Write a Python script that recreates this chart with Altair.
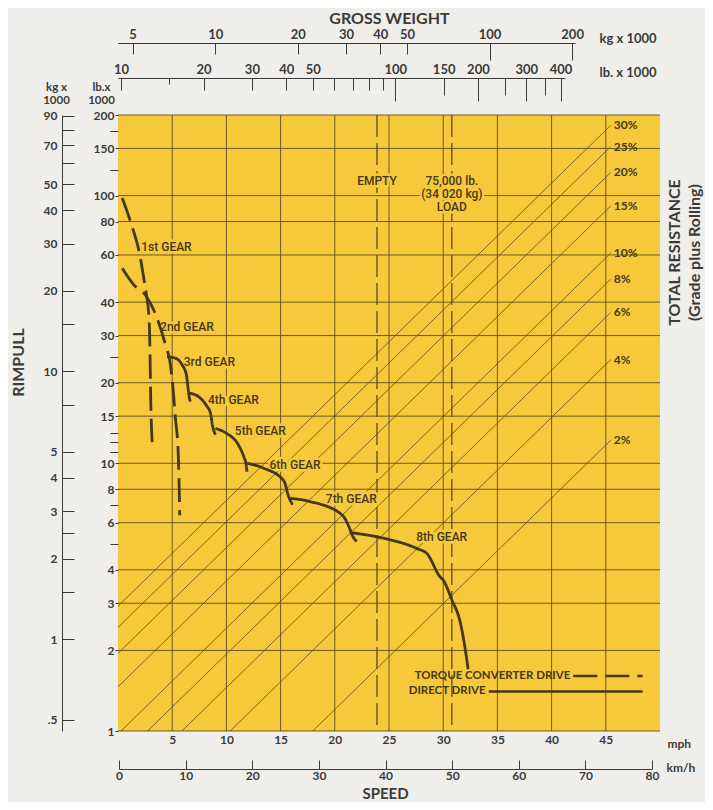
import math
import altair as alt
import pandas as pd

# ---------------- values ----------------
MPH_GRID = [5, 10, 15, 20, 25, 30, 35, 40, 45]
RIM_LB_MAJOR = [1, 2, 3, 4, 6, 8, 10, 15, 20, 30, 40, 60, 80, 100, 150, 200]
RIM_LB_MINOR = [5, 7, 11, 12, 13, 25, 125, 175]
RIM_KG_LABELED = [0.5, 1, 2, 3, 4, 5, 10, 20, 30, 40, 50, 70, 90]
RIM_KG_MINOR = [1.5, 2.5, 7.5, 15, 60, 80]
KMH_TICKS = [0, 10, 20, 30, 40, 50, 60, 70, 80]
GW_KG_LABELED = [5, 10, 20, 30, 40, 50, 100, 200]
GW_KG_LONG = [100, 200]
GW_LB_LABELED = [10, 20, 30, 40, 50, 100, 150, 200, 300, 400]
GW_LB_PLAIN = [60, 70, 80, 90]
GW_LB_SHORT = [15]
GW_LB_MEDIUM = [150, 250, 350]
GW_LB_LONG = [100, 200, 300, 400]

RESIST_PCT = [2, 4, 6, 8, 10, 15, 20, 25, 30]
RESIST_LABELS = ["2%", "4%", "6%", "8%", "10%", "15%", "20%", "25%", "30%"]
RESIST_W_START = 9.75     # lb x 1000 (left edge of weight scale)
RESIST_W_END = 610        # lb x 1000 (where the lines stop)

EMPTY_LB = 85.7           # gross weight, lb x 1000
PAYLOAD_LB = 75.0
WEIGHT_TEXT = ["EMPTY", "75,000 lb.\n(34 020 kg)\nLOAD"]
WEIGHT_TEXT_RIM = [113.7, 113.4]

G1_MPH = [0.39, 1.15, 2.01, 2.38, 2.63, 2.84, 2.93, 3.02, 3.15]
G1_RIM = [97.9, 79.9, 60.0, 49.1, 42.5, 35.8, 28.9, 17.2, 12.0]
G2_MPH = [0.39, 1.46, 2.53, 3.61, 4.38, 4.84, 5.05, 5.30, 5.55, 5.70]
G2_RIM = [53.5, 46.4, 42.5, 34.8, 27.7, 23.3, 19.6, 14.7, 11.05, 6.4]
G3_MPH = [4.53, 5.30, 5.92, 6.31, 6.43, 6.59, 6.68]
G3_RIM = [25.0, 24.7, 23.3, 21.4, 19.6, 17.5, 17.0]
G4_MPH = [6.62, 7.60, 8.22, 8.53, 8.74, 8.99]
G4_RIM = [18.3, 17.5, 16.3, 15.4, 13.7, 12.8]
G5_MPH = [8.99, 10.06, 11.0, 11.6, 11.8, 11.9]
G5_RIM = [13.5, 12.9, 11.9, 10.6, 10.0, 9.3]
G6_MPH = [11.9, 13.4, 15.3, 15.75, 16.1]
G6_RIM = [10.0, 9.6, 8.6, 7.5, 7.0]
G7_MPH = [15.9, 17.7, 20.7, 21.3, 21.6, 22.0]
G7_RIM = [7.4, 7.2, 6.4, 5.8, 5.4, 5.1]
G8_MPH = [21.6, 24.5, 27.6, 28.5, 29.7, 30.0, 30.8, 31.6, 32.0, 32.3]
G8_RIM = [5.5, 5.25, 4.8, 4.6, 3.77, 3.66, 3.09, 2.52, 2.06, 1.70]
GEAR_DRIVE = ["tc", "tc", "dd", "dd", "dd", "dd", "dd", "dd"]

GEAR_LABELS = ["1st GEAR", "2nd GEAR", "3rd GEAR", "4th GEAR",
               "5th GEAR", "6th GEAR", "7th GEAR", "8th GEAR"]
GEAR_LABEL_MPH = [4.47, 6.36, 8.43, 10.65, 13.13, 16.33, 21.52, 29.86]
GEAR_LABEL_RIM = [64.3, 32.4, 23.8, 17.3, 13.2, 9.88, 7.36, 5.29]

LEGEND_LABELS = ["TORQUE CONVERTER DRIVE", "DIRECT DRIVE"]
LEGEND_KIND = ["tc", "dd"]
LEGEND_RIM = [1.605, 1.405]
LEGEND_MPH_START = [42.0, 34.2]
LEGEND_MPH_END = [48.4, 48.4]

# ---------------- styling / layout ----------------
W, H = 542, 616
YELLOW = "#F6C93B"
BG = "#EFEEEB"
GRID = "#5e4c1f"
INK = "#46371a"
AXC = "#3b3b39"
FB = "Lato, 'Open Sans', sans-serif"
FC = "Roboto, 'Noto Sans', sans-serif"
LB_PER_KG = 2.2046

GW_DOMAIN = [9.75, 922]
PX_PER_DECADE = W / math.log10(GW_DOMAIN[1] / GW_DOMAIN[0])
GW_LB_AXIS_END = 415
GW_KG_AXIS_END = 205


def mph_scale():
    return alt.Scale(domain=[0, 50], nice=False, zero=False)


def rim_scale():
    return alt.Scale(type="log", domain=[1, 200], nice=False)


def gw_scale():
    return alt.Scale(type="log", domain=GW_DOMAIN, nice=False)


def gw_lb_axis_scale():
    return alt.Scale(type="log", domain=[GW_DOMAIN[0], GW_LB_AXIS_END],
                     range=[0, PX_PER_DECADE * math.log10(GW_LB_AXIS_END / GW_DOMAIN[0])],
                     nice=False)


def gw_kg_axis_scale():
    lo = GW_DOMAIN[0] / LB_PER_KG
    return alt.Scale(type="log", domain=[lo, GW_KG_AXIS_END],
                     range=[0, PX_PER_DECADE * math.log10(GW_KG_AXIS_END / lo)],
                     nice=False)


def rim_kg_scale():
    return alt.Scale(type="log", domain=[1 / LB_PER_KG, 200 / LB_PER_KG], nice=False)


def kmh_scale():
    return alt.Scale(domain=[0, 80], range=[1, 534], nice=False, zero=False)


AX = dict(labelFont=FB, labelFontSize=12, labelFontWeight="bold", labelColor=AXC,
          tickColor=AXC, domainColor=AXC, grid=False, labelFlush=False,
          labelOverlap=False, titleFont=FB, titleFontWeight="bold",
          titleColor=AXC, titleFontSize=12)


def df_of(vals):
    return pd.DataFrame({"v": vals})


def x_axis_layer(vals, scale, **axis):
    return alt.Chart(df_of(vals)).mark_point(opacity=0).encode(
        x=alt.X("v:Q", scale=scale, axis=alt.Axis(**{**AX, "values": vals, **axis})))


def y_axis_layer(vals, scale, **axis):
    return alt.Chart(df_of(vals)).mark_point(opacity=0).encode(
        y=alt.Y("v:Q", scale=scale, axis=alt.Axis(**{**AX, "values": vals, **axis})))


layers = []

# ---- top: gross weight kg ----
layers.append(x_axis_layer(GW_KG_LABELED, gw_kg_axis_scale(), orient="bottom",
                           offset=-(H + 72), format="d", labelFontSize=13,
                           tickSize=11, labelBaseline="bottom", labelPadding=-13,
                           title="GROSS WEIGHT", titleFontSize=16, titleAngle=0,
                           titleX=271, titleY=-25, titleAlign="center",
                           titleBaseline="middle"))
layers.append(x_axis_layer(GW_KG_LONG, gw_kg_axis_scale(), orient="bottom",
                           offset=-(H + 72), tickSize=17,
                           labels=False, domain=False, title="kg x 1000",
                           titleFontSize=13, titleAngle=0, titleX=481, titleY=-5,
                           titleAlign="left", titleBaseline="middle"))
# ---- top: gross weight lb ----
plain_expr = "indexof(%s, datum.value) >= 0 ? '' : datum.label" % str(GW_LB_PLAIN)
layers.append(x_axis_layer(GW_LB_LABELED + GW_LB_PLAIN, gw_lb_axis_scale(),
                           orient="bottom", offset=-(H + 37), format="d",
                           labelFontSize=13, labelExpr=plain_expr, tickSize=12,
                           labelBaseline="bottom", labelPadding=-14, title=None))
layers.append(x_axis_layer(GW_LB_MEDIUM, gw_lb_axis_scale(), orient="bottom",
                           offset=-(H + 37), tickSize=17,
                           labels=False, domain=False, title=None))
layers.append(x_axis_layer(GW_LB_SHORT, gw_lb_axis_scale(), orient="bottom",
                           offset=-(H + 37), tickSize=6,
                           labels=False, domain=False, title=None))
layers.append(x_axis_layer(GW_LB_LONG, gw_lb_axis_scale(), orient="bottom",
                           offset=-(H + 37), tickSize=23,
                           labels=False, domain=False, title="lb. x 1000",
                           titleFontSize=13, titleAngle=0, titleX=481, titleY=-6,
                           titleAlign="left", titleBaseline="middle"))
# ---- bottom: km/h ----
layers.append(x_axis_layer(KMH_TICKS, kmh_scale(), orient="top", offset=-(H + 38),
                           format="d", tickSize=9,
                           labelBaseline="top", labelPadding=-10, title="km/h",
                           titleAngle=0, titleX=548, titleY=-2, titleAlign="left",
                           titleBaseline="middle"))
layers.append(x_axis_layer(MPH_GRID, mph_scale(), orient="bottom", domain=False,
                           ticks=False, labels=False, title="SPEED",
                           titleFontSize=15, titleAngle=0, titleX=267, titleY=62,
                           titleAlign="center", titleBaseline="middle"))
# ---- left: rimpull kg ----
kg_all = RIM_KG_LABELED + RIM_KG_MINOR
kg_expr = ("datum.value == 0.5 ? '.5' : (indexof(%s, datum.value) >= 0 ? '' : "
           "format(datum.value, 'd'))" % str(RIM_KG_MINOR))
layers.append(y_axis_layer(kg_all, rim_kg_scale(), orient="right", offset=-(W + 56),
                           labelExpr=kg_expr, tickSize=12,
                           labelAlign="right", labelPadding=-17,
                           title=["kg x", "1000"], titleFontSize=11.5, titleAngle=0,
                           titleX=-6, titleY=-34, titleAlign="center",
                           titleBaseline="top", titleLineHeight=13))
layers.append(y_axis_layer(RIM_LB_MINOR, rim_scale(), orient="left",
                           labels=False, domain=False, tickSize=8, title="RIMPULL",
                           titleFontSize=16, titleAngle=270, titleX=-100, titleY=247,
                           titleAlign="center", titleBaseline="middle"))
layers.append(y_axis_layer(RIM_LB_MAJOR, rim_scale(), orient="right", labels=False,
                           domain=False, ticks=False,
                           title=["TOTAL RESISTANCE", "(Grade plus Rolling)"],
                           titleFontSize=16, titleAngle=270, titleX=6, titleY=137,
                           titleAlign="center", titleBaseline="top",
                           titleLineHeight=20))

# ---- grid ----
layers.append(alt.Chart(df_of(MPH_GRID)).mark_rule(color=GRID, strokeWidth=0.9).encode(
    x=alt.X("v:Q", scale=mph_scale(),
            axis=alt.Axis(**{**AX, **dict(orient="bottom", values=MPH_GRID, format="d",
                                          domain=False, ticks=False, labelPadding=3,
                                          title="mph", titleAngle=0, titleX=549,
                                          titleY=12, titleAlign="left",
                                          titleBaseline="middle")}))))
layers.append(alt.Chart(df_of(RIM_LB_MAJOR)).mark_rule(color=GRID, strokeWidth=0.9).encode(
    y=alt.Y("v:Q", scale=rim_scale(),
            axis=alt.Axis(**{**AX, **dict(orient="left", values=RIM_LB_MAJOR, format="d",
                                          domain=False, tickSize=3, labelPadding=1,
                                          title=["lb.x", "1000"], titleFontSize=11.5,
                                          titleAngle=0, titleX=-17, titleY=-34,
                                          titleAlign="center", titleBaseline="top",
                                          titleLineHeight=13)}))))

# ---- total resistance lines ----
res_rows = []
for p in RESIST_PCT:
    for w in (RESIST_W_START, RESIST_W_END):
        res_rows.append({"p": p, "w": w, "r": p / 100.0 * w})
res_df = pd.DataFrame(res_rows)
layers.append(alt.Chart(res_df).mark_line(clip=True, color=GRID, strokeWidth=0.8).encode(
    x=alt.X("w:Q", scale=gw_scale(), axis=None),
    y=alt.Y("r:Q", scale=rim_scale(), axis=None),
    detail="p:N"))
lab_df = pd.DataFrame({"w": [RESIST_W_END] * len(RESIST_PCT),
                       "r": [p / 100.0 * RESIST_W_END for p in RESIST_PCT],
                       "t": RESIST_LABELS})
layers.append(alt.Chart(lab_df).mark_text(align="left", baseline="middle", dx=3,
                                          font=FB, fontSize=12, fontWeight="bold",
                                          color=INK).encode(
    x=alt.X("w:Q", scale=gw_scale(), axis=None),
    y=alt.Y("r:Q", scale=rim_scale(), axis=None), text="t:N"))

# ---- empty / loaded weight lines ----
wt_df = pd.DataFrame({"w": [EMPTY_LB, EMPTY_LB + PAYLOAD_LB], "r": WEIGHT_TEXT_RIM,
                      "t": WEIGHT_TEXT})
layers.append(alt.Chart(wt_df).mark_rule(color=GRID, strokeWidth=1.3,
                                         strokeDash=[22, 6]).encode(
    x=alt.X("w:Q", scale=gw_scale(), axis=None)))
for halo in (True, False):
    kw = dict(stroke=YELLOW, strokeWidth=5, strokeJoin="round") if halo else {}
    layers.append(alt.Chart(wt_df).mark_text(font=FC, fontSize=12, fontWeight=500,
                                             color=YELLOW if halo else INK,
                                             lineBreak="\n", lineHeight=13,
                                             baseline="middle", **kw).encode(
        x=alt.X("w:Q", scale=gw_scale(), axis=None),
        y=alt.Y("r:Q", scale=rim_scale(), axis=None), text="t:N"))

# ---- gear labels ----
gl_df = pd.DataFrame({"x": GEAR_LABEL_MPH, "y": GEAR_LABEL_RIM, "t": GEAR_LABELS})
for halo in (True, False):
    kw = dict(stroke=YELLOW, strokeWidth=5, strokeJoin="round") if halo else {}
    layers.append(alt.Chart(gl_df).mark_text(font=FC, fontSize=12, fontWeight=500,
                                             color=YELLOW if halo else INK,
                                             baseline="middle", **kw).encode(
        x=alt.X("x:Q", scale=mph_scale(), axis=None),
        y=alt.Y("y:Q", scale=rim_scale(), axis=None), text="t:N"))

# ---- rimpull curves ----
gear_rows = []
for gi, (xs, ys) in enumerate([(G1_MPH, G1_RIM), (G2_MPH, G2_RIM), (G3_MPH, G3_RIM),
                               (G4_MPH, G4_RIM), (G5_MPH, G5_RIM), (G6_MPH, G6_RIM),
                               (G7_MPH, G7_RIM), (G8_MPH, G8_RIM)]):
    for i, (x, y) in enumerate(zip(xs, ys)):
        gear_rows.append({"gear": gi + 1, "drive": GEAR_DRIVE[gi], "i": i, "x": x, "y": y})
gear_df = pd.DataFrame(gear_rows)
dash_scale = alt.Scale(domain=["tc", "dd"], range=[[24, 8], [1, 0]])
layers.append(alt.Chart(gear_df).mark_line(color=INK, strokeWidth=2.8,
                                           interpolate="monotone").encode(
    x=alt.X("x:Q", scale=mph_scale(), axis=None),
    y=alt.Y("y:Q", scale=rim_scale(), axis=None),
    detail="gear:N", order="i:Q",
    strokeDash=alt.StrokeDash("drive:N", scale=dash_scale, legend=None)))

# ---- legend ----
lg_df = pd.DataFrame({"t": LEGEND_LABELS, "k": LEGEND_KIND, "y": LEGEND_RIM,
                      "a": LEGEND_MPH_START, "b": LEGEND_MPH_END})
layers.append(alt.Chart(lg_df).mark_rule(color=INK, strokeWidth=2.6).encode(
    x=alt.X("a:Q", scale=mph_scale(), axis=None), x2="b:Q",
    y=alt.Y("y:Q", scale=rim_scale(), axis=None),
    strokeDash=alt.StrokeDash("k:N", scale=alt.Scale(domain=["tc", "dd"],
                                                     range=[[20, 5], [1, 0]]),
                              legend=None)))
layers.append(alt.Chart(lg_df).mark_text(align="right", baseline="middle", dx=-3,
                                         font=FB, fontSize=11.5, fontWeight="bold",
                                         color=INK).encode(
    x=alt.X("a:Q", scale=mph_scale(), axis=None),
    y=alt.Y("y:Q", scale=rim_scale(), axis=None), text="t:N"))

chart = alt.layer(*layers).resolve_scale(
    x="independent", y="independent").resolve_axis(
    x="independent", y="independent").properties(
    width=W, height=H, background=BG,
    autosize=alt.AutoSizeParams(type="none"),
    padding={"left": 110, "top": 107, "right": 45, "bottom": 71},
).configure_view(fill=YELLOW, strokeWidth=0)

chart.save("out.html", embed_options={"renderer": "svg", "actions": False})
